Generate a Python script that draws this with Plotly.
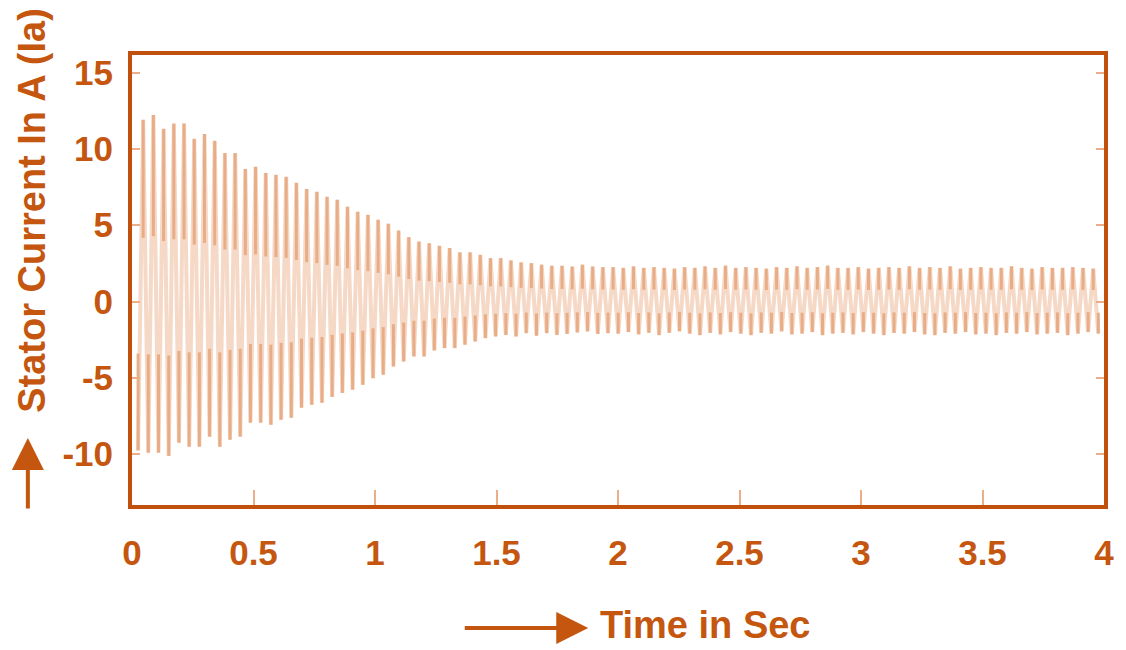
import plotly.graph_objects as go

# ---- data ----
first_peak_time = 0.046      # s, time of first positive peak
peak_period = 0.04204        # s, spacing between successive visible peaks

upper_peaks = [
    11.91, 12.23, 11.32, 11.66, 11.66, 10.66, 10.98, 10.53, 9.73, 9.73,
    8.69, 8.83, 8.43, 8.30, 8.17, 7.78, 7.38, 7.19, 6.86, 6.67,
    6.21, 5.88, 5.68, 5.36, 5.10, 4.65, 4.22, 3.93, 3.82, 3.65,
    3.50, 3.22, 3.22, 3.06, 2.84, 2.84, 2.69, 2.56, 2.51, 2.41,
    2.34, 2.34, 2.29, 2.41, 2.29, 2.25,
    2.25, 2.20, 2.30, 2.20, 2.25, 2.20, 2.15, 2.25, 2.20, 2.30,
    2.20, 2.35, 2.20, 2.25, 2.20, 2.15, 2.25, 2.20, 2.30, 2.20,
    2.25, 2.35, 2.20, 2.20, 2.25, 2.15, 2.20, 2.25, 2.20, 2.30,
    2.20, 2.25, 2.20, 2.30, 2.15, 2.20, 2.25, 2.20, 2.20, 2.30,
    2.20, 2.15, 2.25, 2.20, 2.20, 2.25, 2.20, 2.15,
]

lower_peaks = [
    -9.76,
    -9.91, -9.91, -10.12, -9.26, -9.52, -9.52, -8.86, -9.52, -9.06, -8.86,
    -7.94, -7.94, -8.08, -7.75, -7.62, -6.96, -6.77, -6.64, -6.25, -5.99,
    -5.78, -5.46, -5.03,
    -4.80, -4.26, -3.93, -3.60, -3.60, -3.21, -3.05, -3.05, -2.83, -2.62,
    -2.40, -2.29, -2.19, -2.29, -2.07, -2.24, -2.07, -2.19, -2.12, -2.03,
    -1.96, -2.12, -2.07,
    -2.10, -2.00, -2.15, -2.05, -2.20, -2.05, -1.95, -2.10, -2.20, -2.05,
    -2.15, -2.00, -2.10, -2.20, -2.05, -2.10, -1.95, -2.15, -2.10, -2.00,
    -2.20, -2.10, -2.05, -2.15, -2.00, -2.10, -2.20, -2.05, -2.10, -2.00,
    -2.15, -2.20, -2.05, -2.10, -2.00, -2.15, -2.10, -2.20, -2.05, -2.10,
    -2.00, -2.15, -2.10, -2.05, -2.20, -2.10, -2.00, -2.10,
]

x_ticks = [0, 0.5, 1, 1.5, 2, 2.5, 3, 3.5, 4]
x_tick_labels = ["0", "0.5", "1", "1.5", "2", "2.5", "3", "3.5", "4"]
y_ticks = [-10, -5, 0, 5, 10, 15]
y_tick_labels = ["-10", "-5", "0", "5", "10", "15"]

x_title = "Time in Sec"
y_title = "Stator Current In A (Ia)"

# ---- build traces ----
upper_t = [first_peak_time + i * peak_period for i in range(len(upper_peaks))]
lower_t = [first_peak_time + (j - 0.5) * peak_period for j in range(len(lower_peaks))]

pts = [(t, v) for t, v in zip(upper_t, upper_peaks)] + [(t, v) for t, v in zip(lower_t, lower_peaks)]
pts.sort(key=lambda p: p[0])
wave_t = [p[0] for p in pts]
wave_v = [p[1] for p in pts]

bar_t, bar_v = [], []
for t, v in pts:
    bar_t += [t, t, None]
    bar_v += [v, 0.35 * v, None]

TEXT = "#C4560F"
FRAME = "#C0500C"
TICK = "#EBAE88"

W, H = 1126, 650
PL, PR, PT, PB = 132, 1112, 55, 505   # target plot-frame pixels in the window

def px_x(x):
    return (x - PL) / (PR - PL)

def px_y(y):
    return 1 - (y - PT) / (PB - PT)

fig = go.Figure()
fig.add_trace(go.Scatter(x=wave_t, y=wave_v, mode="lines",
                         line=dict(color="rgba(243,206,182,0.8)", width=4),
                         hoverinfo="skip", showlegend=False))
fig.add_trace(go.Scatter(x=bar_t, y=bar_v, mode="lines",
                         line=dict(color="rgba(231,168,128,0.9)", width=3),
                         hoverinfo="skip", showlegend=False))

font_main = "Liberation Sans, Arial, sans-serif"

fig.update_layout(
    width=W, height=H,
    margin=dict(l=PL, r=W - PR, t=PT, b=H - PB),
    paper_bgcolor="white", plot_bgcolor="white",
    showlegend=False,
    font=dict(family=font_main, color=TEXT),
    xaxis=dict(range=[0, 4], tickvals=x_ticks, ticktext=x_tick_labels,
               showgrid=False, zeroline=False,
               showline=True, linecolor=FRAME, linewidth=4, mirror=True,
               ticks="inside", ticklen=15, tickwidth=1.5, tickcolor=TICK,
               ticklabelstandoff=14, ticklabeloverflow="allow",
               tickfont=dict(size=35, color=TEXT, family=font_main, weight="bold")),
    yaxis=dict(range=[-13.34, 16.16], tickvals=y_ticks, ticktext=y_tick_labels,
               showgrid=False, zeroline=False,
               showline=True, linecolor=FRAME, linewidth=4, mirror="ticks",
               ticks="inside", ticklen=8, tickwidth=2, tickcolor=TICK,
               ticklabelstandoff=8, ticklabeloverflow="allow",
               tickfont=dict(size=35, color=TEXT, family=font_main, weight="bold")),
)

# titles as annotations
fig.add_annotation(text=y_title, xref="paper", yref="paper",
                   x=px_x(31), y=px_y(210), xanchor="center", yanchor="middle",
                   textangle=-90, showarrow=False,
                   font=dict(size=38, color=TEXT, family=font_main, weight="bold"))
fig.add_annotation(text=x_title, xref="paper", yref="paper",
                   x=px_x(710), y=px_y(625), xanchor="center", yanchor="middle",
                   showarrow=False,
                   font=dict(size=38, color=TEXT, family=font_main, weight="bold"))

# arrows next to titles
fig.add_annotation(text="", xref="paper", yref="paper",
                   x=px_x(27), y=px_y(438),
                   ax=0, ay=72, showarrow=True,
                   arrowhead=2, arrowsize=1.6, arrowwidth=4, arrowcolor=TEXT)
fig.add_annotation(text="", xref="paper", yref="paper",
                   x=px_x(592), y=px_y(628),
                   ax=-125, ay=0, showarrow=True,
                   arrowhead=2, arrowsize=1.6, arrowwidth=4, arrowcolor=TEXT)

# the page's default body margin would push the 1126x650 figure out of the window
fig.write_html("out.html", config={"displayModeBar": False},
               post_script="document.body.style.margin='0';")
